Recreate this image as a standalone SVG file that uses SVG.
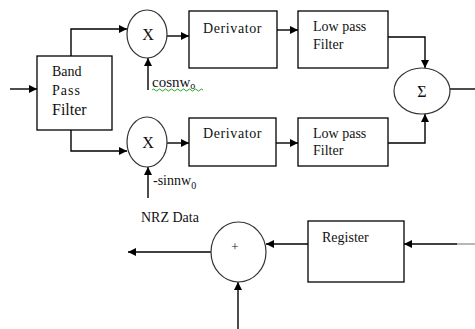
<svg xmlns="http://www.w3.org/2000/svg" width="475" height="329" viewBox="0 0 475 329" font-family="'Liberation Serif', 'DejaVu Serif', serif">
<style>
.box{fill:#fff;stroke:#000;stroke-width:1.3}
.node{fill:#fff;stroke:#333;stroke-width:1.2}
.ln{fill:none;stroke:#000;stroke-width:1.4}
text{font-family:'Liberation Serif','DejaVu Serif',serif;fill:#111}
.t{font-size:14px}
</style>
<defs>
<marker id="ah" viewBox="0 0 10 10" refX="10" refY="5" markerWidth="8" markerHeight="8" markerUnits="userSpaceOnUse" orient="auto">
<path d="M0,0 L10,5 L0,10 Z" fill="#000"/>
</marker>
</defs>
<rect width="475" height="329" fill="#fff"/>
<g id="connectors">
<path class="ln" d="M10,89 H37" marker-end="url(#ah)"/>
<path class="ln" d="M71,56 V29 H127" marker-end="url(#ah)"/>
<path class="ln" d="M71,130 V151 H127" marker-end="url(#ah)"/>
<path class="ln" d="M148,90 V58" marker-end="url(#ah)"/>
<path class="ln" d="M148,198 V167" marker-end="url(#ah)"/>
<path class="ln" d="M167,36 H189" marker-end="url(#ah)"/>
<path class="ln" d="M167,143 H189" marker-end="url(#ah)"/>
<path class="ln" d="M277,30 H298" marker-end="url(#ah)"/>
<path class="ln" d="M276,143 H298" marker-end="url(#ah)"/>
<path class="ln" d="M388,37 H425 V68" marker-end="url(#ah)"/>
<path class="ln" d="M388,143 H425 V114" marker-end="url(#ah)"/>
<path class="ln" d="M450,89 H475"/>
<path class="ln" d="M457,244 H404" marker-end="url(#ah)"/>
<path d="M475,244 H457" stroke="#999" stroke-width="1.4"/>
<path class="ln" d="M308,244 H266" marker-end="url(#ah)"/>
<path class="ln" d="M211,252 H128" marker-end="url(#ah)"/>
<path class="ln" d="M238,329 L238,282" marker-end="url(#ah)"/>
</g>
<g id="bpf">
<rect class="box" x="37" y="56" width="75" height="74"/>
<text class="t" x="52" y="76">Band</text>
<text class="t" x="52" y="95" letter-spacing="1">Pass</text>
<text x="52" y="115" font-size="16">Filter</text>
</g>
<g id="mix1">
<ellipse class="node" cx="147" cy="34" rx="20" ry="24"/>
<text x="148" y="40" font-size="16" text-anchor="middle">X</text>
</g>
<g id="mix2">
<ellipse class="node" cx="147" cy="142" rx="20" ry="25"/>
<text x="148" y="148" font-size="16" text-anchor="middle">X</text>
</g>
<g id="cos">
<text x="152" y="87" font-size="15">cosnw<tspan font-size="10" dy="2">o</tspan></text>
<path d="M152,90 q1.5,-2 3,0 t3,0 t3,0 t3,0 t3,0 t3,0 t3,0 t3,0 t3,0 t3,0 t3,0 t3,0 t3,0 t3,0 t3,0 t3,0 t3,0" fill="none" stroke="#2a2" stroke-width="1"/>
</g>
<g id="sin">
<text class="t" x="153" y="185">-sinnw<tspan font-size="10" dy="4">0</tspan></text>
</g>
<g id="nrz">
<text class="t" x="141" y="222">NRZ Data</text>
</g>
<g id="der1">
<rect class="box" x="189" y="11" width="88" height="57"/>
<text class="t" x="203" y="33" letter-spacing="0.6">Derivator</text>
</g>
<g id="der2">
<rect class="box" x="189" y="118" width="87" height="48"/>
<text class="t" x="203" y="138" letter-spacing="0.6">Derivator</text>
</g>
<g id="lpf1">
<rect class="box" x="298" y="11" width="90" height="57"/>
<text class="t" x="313" y="31">Low pass</text>
<text class="t" x="313" y="49">Filter</text>
</g>
<g id="lpf2">
<rect class="box" x="298" y="118" width="90" height="48"/>
<text class="t" x="313" y="138">Low pass</text>
<text class="t" x="313" y="155">Filter</text>
</g>
<g id="sum">
<ellipse class="node" cx="422" cy="91" rx="28" ry="23"/>
<text x="422" y="97" font-size="16" text-anchor="middle">Σ</text>
</g>
<g id="adder">
<ellipse class="node" cx="238.5" cy="252" rx="27.5" ry="30"/>
<text x="235" y="251" font-size="13" text-anchor="middle" fill="#636">+</text>
</g>
<g id="register">
<rect class="box" x="308" y="221" width="96" height="61"/>
<text class="t" x="322" y="242">Register</text>
</g>
</svg>
